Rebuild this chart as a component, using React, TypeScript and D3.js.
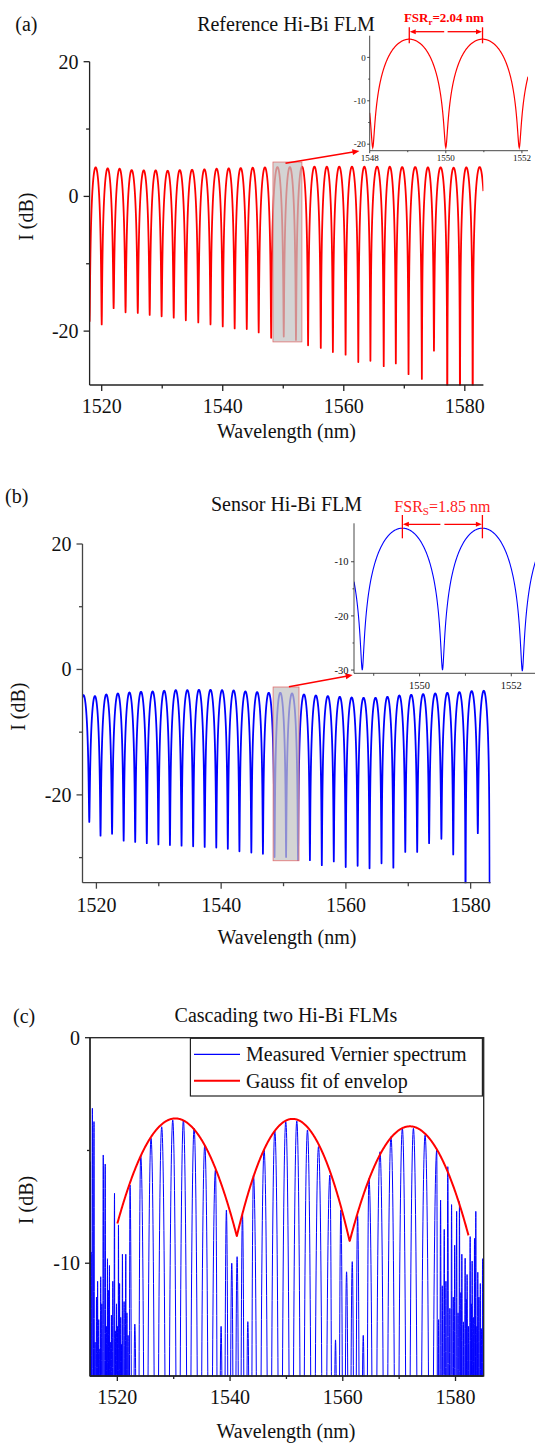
import React from "react";
import * as d3 from "d3";

type Pt = [number, number];

// ---------------- DATA ----------------
// (a) Reference Hi-Bi FLM : fringe dips (wavelength, depth) and peak level of each fringe
const refDipWl = [1518.0, 1520.0, 1521.97, 1523.94, 1525.96, 1527.93, 1529.9, 1531.9, 1533.9, 1535.96, 1537.98, 1540.0, 1541.97, 1543.97, 1545.94, 1548.0, 1550.08, 1552.1, 1554.1, 1556.2, 1558.2, 1560.3, 1562.4, 1564.4, 1566.6, 1568.6, 1570.7, 1572.9, 1574.9, 1577.1, 1579.2, 1581.3, 1583.6];
const refDipDb = [-18.6, -19.0, -16.6, -17.2, -17.3, -17.6, -17.8, -18.0, -18.4, -18.7, -19.0, -19.3, -19.6, -19.7, -20.2, -21.0, -20.8, -21.3, -22.1, -22.5, -23.1, -23.5, -24.6, -24.4, -25.2, -24.8, -26.4, -27.1, -22.9, -35, -35, -35, -25];
const refPeakDb = [4.31, 4.16, 4.11, 3.91, 3.86, 3.86, 3.81, 3.91, 3.96, 4.01, 4.11, 4.16, 4.21, 4.26, 4.3, 4.36, 4.36, 4.41, 4.41, 4.41, 4.41, 4.41, 4.41, 4.41, 4.41, 4.36, 4.36, 4.31, 4.31, 4.26, 4.31, 4.36];
const refWlDomain = [1518, 1583.07];
const refDbDomain = [-28, 20];
const refZoomBox = [1548.3, 1553.08, -21.6, 5.1];

// (a) inset
const refInsetDipWl = [1546.15, 1548.08, 1550.0, 1551.93, 1553.86];
const refInsetDipDb = [-21, -20.8, -20.8, -20.8, -21];
const refInsetPeakDb = [4.2, 4.2, 4.2, 4.2];
const refInsetWlDomain = [1548, 1552.16];
const refInsetDbDomain = [-21.5, 5];

// (b) Sensor Hi-Bi FLM
const senDipWl = [1517.0, 1518.86, 1520.66, 1522.51, 1524.37, 1526.22, 1528.08, 1529.94, 1531.79, 1533.65, 1535.51, 1537.36, 1539.22, 1541.07, 1542.93, 1544.84, 1546.7, 1548.56, 1550.41, 1552.32, 1554.23, 1556.14, 1558.06, 1559.97, 1561.88, 1563.79, 1565.71, 1567.61, 1569.52, 1571.43, 1573.34, 1575.31, 1577.21, 1579.18, 1581.15, 1583.06];
const senDipDb = [-24, -24.3, -26.5, -26.2, -27.3, -27.5, -27.7, -27.9, -28.0, -28.1, -28.2, -28.3, -28.4, -28.6, -29.0, -29.2, -29.4, -29.9, -29.9, -30.4, -30.4, -31.2, -30.6, -31.5, -31.3, -31.7, -30.9, -31.6, -29.1, -29.1, -27.7, -27.0, -29.5, -40, -26.1, -40];
const senPeakDb = [-4.1, -4.25, -3.99, -3.83, -3.67, -3.56, -3.51, -3.4, -3.3, -3.3, -3.25, -3.25, -3.3, -3.35, -3.51, -3.61, -3.72, -3.72, -3.83, -3.99, -4.15, -4.25, -4.36, -4.47, -4.52, -4.52, -4.36, -4.15, -4.04, -3.93, -3.83, -3.72, -3.61, -3.45, -3.4];
const senWlDomain = [1517.77, 1583.2];
const senDbDomain = [-34, 20];
const senZoomBox = [1548.33, 1552.48, -30.5, -2.8];

// (b) inset
const senInsetDipWl = [1547.0, 1548.75, 1550.5, 1552.24, 1554.0];
const senInsetDipDb = [-30, -30, -30, -30.2, -30];
const senInsetPeakDb = [-3.8, -3.8, -3.8, -3.8];
const senInsetWlDomain = [1548.57, 1552.53];
const senInsetDbDomain = [-30.6, -2.9];

// (c) Cascaded Vernier spectrum: fringe peak wavelengths and levels
const casPeakWl = [1515.2, 1515.35, 1515.57, 1515.86, 1516.05, 1516.3, 1516.5, 1516.7, 1516.9, 1517.05, 1517.25, 1517.5, 1517.85, 1518.05, 1518.25, 1518.4, 1518.6, 1518.75, 1518.95, 1519.2, 1519.5, 1519.65, 1519.85, 1520.05, 1520.2, 1520.4, 1520.6, 1520.75, 1520.9, 1521.2, 1521.5, 1521.7, 1521.9, 1522.25, 1523.1, 1524.15, 1525.98, 1527.87, 1529.83, 1531.72, 1533.62, 1535.51, 1537.4, 1538.41, 1539.35, 1540.3, 1541.25, 1542.2, 1543.15, 1544.15, 1546.04, 1547.94, 1549.88, 1551.84, 1553.73, 1555.69, 1557.71, 1558.71, 1559.66, 1560.67, 1561.68, 1562.63, 1563.63, 1564.64, 1566.6, 1568.55, 1570.57, 1572.53, 1574.6, 1576.67, 1577.0, 1577.35, 1577.65, 1578.0, 1578.3, 1578.63, 1579.0, 1579.3, 1579.6, 1579.85, 1580.2, 1580.45, 1580.7, 1580.95, 1581.12, 1581.4, 1581.71, 1581.9, 1582.05, 1582.3, 1582.6, 1582.8, 1582.95, 1583.15, 1583.37, 1583.6, 1583.8, 1583.95, 1584.15, 1584.4, 1584.6, 1584.8];
const casPeakDb = [-5.5, -9.5, -3.13, -3.72, -13.5, -11.5, -10.8, -12.5, -13.8, -10.6, -11.8, -5.2, -5.6, -12.8, -9.8, -11.2, -10.1, -13.5, -12.3, -10.8, -6.9, -13.0, -11.8, -12.8, -8.3, -10.9, -12.4, -13.6, -9.6, -11.7, -9.6, -12.2, -13.2, -6.53, -12.7, -5.2, -4.46, -3.95, -3.65, -3.65, -4.02, -4.76, -5.87, -12.8, -7.64, -10.0, -9.71, -7.79, -12.59, -6.09, -4.98, -4.13, -3.72, -3.69, -4.09, -4.83, -6.09, -13.4, -7.64, -10.38, -9.93, -7.89, -13.2, -6.24, -5.06, -4.39, -4.02, -4.02, -4.32, -4.98, -12.5, -7.2, -11.0, -8.5, -10.8, -5.72, -12.0, -7.4, -11.5, -9.2, -7.7, -12.2, -7.27, -11.3, -9.6, -12.6, -9.78, -11.6, -10.5, -12.8, -8.82, -11.8, -9.9, -12.4, -8.9, -7.7, -12.8, -10.4, -11.5, -10.9, -12.9, -9.8];
const casWlDomain = [1515.15, 1585.0];
const casDbDomain = [-15, 0];

// (c) Gauss fit of envelope: three arches
const envCenterWl = [1530.3, 1551.1, 1571.9];
const envPeakDb = [-3.58, -3.6, -3.93];
const envSigma = [7.03, 6.4, 6.97];
const envRange = [1520.0, 1582.3];

// ticks
const mainXTicks = [1520, 1540, 1560, 1580];
const mainXMinor = [1530, 1550, 1570];
const mainYTicks = [20, 0, -20];
const refYMinor = [10, -10];
const senYMinor = [10, -10, -30];
const casYTicks = [0, -10];
const casYMinor = [-5];
const refInsetXTicks = [1548, 1550, 1552];
const insetXMinor = [1549, 1551];
const refInsetYTicks = [0, -10, -20];
const refInsetYMinor = [-5, -15];
const senInsetXTicks = [1550, 1552];
const senInsetYTicks = [-10, -20, -30];
const senInsetYMinor = [-15, -25];

// ---------------- helpers ----------------
function fringeLine(dipWl: number[], dipDb: number[], peakDb: number[], lo: number, hi: number, n = 70): Pt[] {
  const pts: Pt[] = [];
  const val = (i: number, t: number) => {
    const P = peakDb[i];
    const D = t < 0.5 ? dipDb[i] : dipDb[i + 1];
    const a = Math.pow(10, (D - P) / 10);
    const s = Math.sin(Math.PI * t);
    return P + 10 * Math.log10(a + (1 - a) * s * s);
  };
  for (let i = 0; i < dipWl.length - 1; i++) {
    const L = dipWl[i], R = dipWl[i + 1];
    if (lo > L && lo < R) pts.push([lo, val(i, (lo - L) / (R - L))]);
    for (let k = i === 0 ? 0 : 1; k <= n; k++) {
      const t = k / n;
      const w = L + t * (R - L);
      if (w < lo || w > hi) continue;
      pts.push([w, val(i, t)]);
    }
    if (hi > L && hi < R) pts.push([hi, val(i, (hi - L) / (R - L))]);
  }
  return pts;
}

function combLine(wl: number[], db: number[], lo: number, hi: number, expo: number, floor: number, n = 30): Pt[] {
  const pts: Pt[] = [];
  const m = wl.length;
  for (let i = 0; i < m; i++) {
    const p = wl[i];
    const bl = i > 0 ? (wl[i - 1] + p) / 2 : p - (wl[1] - wl[0]) / 2;
    const br = i < m - 1 ? (p + wl[i + 1]) / 2 : p + (p - wl[i - 1]) / 2;
    const f = (u: number) => {
      const c = Math.cos((Math.PI * u) / 2);
      return c <= 1e-9 ? floor : Math.max(floor, db[i] + expo * 10 * Math.log10(c));
    };
    for (let k = i === 0 ? 0 : 1; k <= n; k++) {
      const u = k / n - 1;
      const w = p + u * (p - bl);
      if (w >= lo && w <= hi) pts.push([w, f(u)]);
    }
    for (let k = 1; k <= n; k++) {
      const u = k / n;
      const w = p + u * (br - p);
      if (w >= lo && w <= hi) pts.push([w, f(u)]);
    }
  }
  return pts;
}

function envelopeLine(): Pt[] {
  const pts: Pt[] = [];
  for (let w = envRange[0]; w <= envRange[1] + 1e-9; w += 0.05) {
    let v = -Infinity;
    for (let j = 0; j < envCenterWl.length; j++) {
      const d = w - envCenterWl[j];
      const g = envPeakDb[j] + 10 * Math.log10(Math.exp(-(d * d) / (2 * envSigma[j] * envSigma[j])));
      if (g > v) v = g;
    }
    pts.push([w, v]);
  }
  return pts;
}

const FONT = "'Liberation Serif', 'Times New Roman', serif";
const AX = "#222";

type Scale = d3.ScaleLinear<number, number>;

function LeftAxis(p: { s: Scale; x: number; ticks: number[]; minor: number[]; fs: number; tl: number; ml: number; gap: number; sw: number; color?: string }) {
  const [r0, r1] = p.s.range();
  const c = p.color || AX;
  return (
    <g>
      <line x1={p.x} x2={p.x} y1={r0} y2={r1} stroke={c} strokeWidth={p.sw} />
      {p.ticks.map((v) => (
        <g key={"t" + v}>
          <line x1={p.x - p.tl} x2={p.x} y1={p.s(v)} y2={p.s(v)} stroke={c} strokeWidth={p.sw} />
          <text x={p.x - p.tl - p.gap} y={p.s(v)} dy="0.35em" textAnchor="end" fontSize={p.fs} fontFamily={FONT} fill="#111">{String(v)}</text>
        </g>
      ))}
      {p.minor.map((v) => (
        <line key={"m" + v} x1={p.x - p.ml} x2={p.x} y1={p.s(v)} y2={p.s(v)} stroke={c} strokeWidth={p.sw} />
      ))}
    </g>
  );
}

function BottomAxis(p: { s: Scale; y: number; ticks: number[]; minor: number[]; fs: number; tl: number; ml: number; off: number; sw: number; color?: string }) {
  const [r0, r1] = p.s.range();
  const c = p.color || AX;
  return (
    <g>
      <line x1={r0} x2={r1} y1={p.y} y2={p.y} stroke={c} strokeWidth={p.sw} />
      {p.ticks.map((v) => (
        <g key={"t" + v}>
          <line x1={p.s(v)} x2={p.s(v)} y1={p.y} y2={p.y + p.tl} stroke={c} strokeWidth={p.sw} />
          <text x={p.s(v)} y={p.y + p.off} textAnchor="middle" fontSize={p.fs} fontFamily={FONT} fill="#111">{String(v)}</text>
        </g>
      ))}
      {p.minor.map((v) => (
        <line key={"m" + v} x1={p.s(v)} x2={p.s(v)} y1={p.y} y2={p.y + p.ml} stroke={c} strokeWidth={p.sw} />
      ))}
    </g>
  );
}

function Arrow(p: { x1: number; y1: number; x2: number; y2: number; color: string; sw: number; head: number; hw: number }) {
  const dx = p.x2 - p.x1, dy = p.y2 - p.y1;
  const L = Math.hypot(dx, dy);
  const ux = dx / L, uy = dy / L;
  const bx = p.x2 - ux * p.head, by = p.y2 - uy * p.head;
  const nx = -uy * p.hw, ny = ux * p.hw;
  return (
    <g>
      <line x1={p.x1} y1={p.y1} x2={bx + ux * 0.5} y2={by + uy * 0.5} stroke={p.color} strokeWidth={p.sw} />
      <path d={`M${p.x2},${p.y2}L${bx + nx},${by + ny}L${bx - nx},${by - ny}Z`} fill={p.color} />
    </g>
  );
}

export default function App() {
  // scales
  const xA = d3.scaleLinear().domain(refWlDomain).range([89.6, 483.4]);
  const yA = d3.scaleLinear().domain(refDbDomain).range([385, 61.7]);
  const xAi = d3.scaleLinear().domain(refInsetWlDomain).range([369.7, 528]);
  const yAi = d3.scaleLinear().domain(refInsetDbDomain).range([150.7, 35.7]);

  const xB = d3.scaleLinear().domain(senWlDomain).range([82.5, 490.6]);
  const yB = d3.scaleLinear().domain(senDbDomain).range([882.7, 544]);
  const xBi = d3.scaleLinear().domain(senInsetWlDomain).range([354, 535.6]);
  const yBi = d3.scaleLinear().domain(senInsetDbDomain).range([673.3, 523.3]);

  const xC = d3.scaleLinear().domain(casWlDomain).range([90, 483.7]);
  const yC = d3.scaleLinear().domain(casDbDomain).range([1376, 1037.7]);

  const mk = (xs: Scale, ys: Scale) => d3.line<Pt>().x((d) => xs(d[0])).y((d) => ys(d[1]));

  const refPts = fringeLine(refDipWl, refDipDb, refPeakDb, refWlDomain[0], refWlDomain[1]);
  const refInsetPts = fringeLine(refInsetDipWl, refInsetDipDb, refInsetPeakDb, refInsetWlDomain[0], refInsetWlDomain[1], 200);
  const senPts = fringeLine(senDipWl, senDipDb, senPeakDb, senWlDomain[0], senWlDomain[1]);
  const senInsetPts = fringeLine(senInsetDipWl, senInsetDipDb, senInsetPeakDb, senInsetWlDomain[0], senInsetWlDomain[1], 200);
  const casPts = combLine(casPeakWl, casPeakDb, casWlDomain[0], casWlDomain[1], 5, -40);
  const envPts = envelopeLine();

  const clipRect = (id: string, xs: Scale, ys: Scale) => {
    const [x0, x1] = xs.range();
    const [y0, y1] = ys.range();
    return (
      <clipPath id={id}>
        <rect x={Math.min(x0, x1)} y={Math.min(y0, y1) - 0.5} width={Math.abs(x1 - x0)} height={Math.abs(y1 - y0) + 1} />
      </clipPath>
    );
  };

  // inset FSR marker positions (peaks between inset dips)
  const aP1 = xAi((refInsetDipWl[1] + refInsetDipWl[2]) / 2);
  const aP2 = xAi((refInsetDipWl[2] + refInsetDipWl[3]) / 2);
  const bP1 = xBi((senInsetDipWl[1] + senInsetDipWl[2]) / 2);
  const bP2 = xBi((senInsetDipWl[2] + senInsetDipWl[3]) / 2);
  const aMid = (aP1 + aP2) / 2;
  const bMid = (bP1 + bP2) / 2;

  const RED = "#ff0000";
  const BLUE = "#0000ff";

  return (
    <svg width={535} height={1446} viewBox="0 0 535 1446" style={{ position: "absolute", left: 0, top: 0, background: "#fff" }} fontFamily={FONT}>
      <defs>
        {clipRect("clipA", xA, yA)}
        {clipRect("clipAi", xAi, yAi)}
        {clipRect("clipB", xB, yB)}
        {clipRect("clipBi", xBi, yBi)}
        {clipRect("clipC", xC, yC)}
      </defs>
      <rect x={0} y={0} width={535} height={1446} fill="#fff" />

      {/* ================= (a) ================= */}
      <text x={15.3} y={31} fontSize={20} fill="#111">(a)</text>
      <text x={286} y={30.7} fontSize={20} textAnchor="middle" fill="#111">Reference Hi-Bi FLM</text>
      <path d={mk(xA, yA)(refPts) || ""} fill="none" stroke={RED} strokeWidth={1.8} clipPath="url(#clipA)" strokeLinejoin="round" />
      <rect x={xA(refZoomBox[0])} y={yA(refZoomBox[3])} width={xA(refZoomBox[1]) - xA(refZoomBox[0])} height={yA(refZoomBox[2]) - yA(refZoomBox[3])} fill="#c4c4c4" fillOpacity={0.72} stroke="#e07070" strokeWidth={0.8} />
      <Arrow x1={285.5} y1={163.3} x2={359.4} y2={151} color={RED} sw={1.5} head={7} hw={3} />
      <LeftAxis s={yA} x={89.6} ticks={mainYTicks} minor={refYMinor} fs={20} tl={6} ml={3.5} gap={5} sw={1.3} />
      <BottomAxis s={xA} y={385} ticks={mainXTicks} minor={mainXMinor} fs={20} tl={6} ml={3.5} off={28.3} sw={1.3} />
      <text transform="translate(33,216.7) rotate(-90)" fontSize={20} textAnchor="middle" fill="#111">I (dB)</text>
      <text x={286.5} y={438.3} fontSize={20} textAnchor="middle" fill="#111">Wavelength (nm)</text>

      {/* inset (a) */}
      <path d={mk(xAi, yAi)(refInsetPts) || ""} fill="none" stroke={RED} strokeWidth={1.2} clipPath="url(#clipAi)" />
      <LeftAxis s={yAi} x={369.7} ticks={refInsetYTicks} minor={refInsetYMinor} fs={9} tl={2.5} ml={1.5} gap={1.5} sw={0.9} color="#333" />
      <BottomAxis s={xAi} y={150.7} ticks={refInsetXTicks} minor={insetXMinor} fs={9} tl={2.5} ml={1.5} off={10.5} sw={0.9} color="#333" />
      <line x1={aP1} x2={aP1} y1={27.3} y2={43.3} stroke={RED} strokeWidth={1.3} />
      <line x1={aP2} x2={aP2} y1={27.3} y2={43.3} stroke={RED} strokeWidth={1.3} />
      <Arrow x1={aMid - 1.7} y1={31.7} x2={aP1 + 0.5} y2={31.7} color={RED} sw={1.3} head={6} hw={2.5} />
      <Arrow x1={aMid + 1.7} y1={31.7} x2={aP2 - 0.5} y2={31.7} color={RED} sw={1.3} head={6} hw={2.5} />
      <text x={aMid - 2} y={22} fontSize={13} fontWeight="bold" textAnchor="middle" fill={RED}>
        FSR<tspan fontSize={9} dy={3}>r</tspan><tspan dy={-3}>=2.04 nm</tspan>
      </text>

      {/* ================= (b) ================= */}
      <text x={5} y={503.3} fontSize={20} fill="#111">(b)</text>
      <text x={286.5} y={510.7} fontSize={20} textAnchor="middle" fill="#111">Sensor Hi-Bi FLM</text>
      <path d={mk(xB, yB)(senPts) || ""} fill="none" stroke={BLUE} strokeWidth={1.8} clipPath="url(#clipB)" strokeLinejoin="round" />
      <rect x={xB(senZoomBox[0])} y={yB(senZoomBox[3])} width={xB(senZoomBox[1]) - xB(senZoomBox[0])} height={yB(senZoomBox[2]) - yB(senZoomBox[3])} fill="#c4c4c4" fillOpacity={0.72} stroke="#e07070" strokeWidth={0.8} />
      <Arrow x1={288.9} y1={686.7} x2={352.6} y2={675} color={RED} sw={1.5} head={7} hw={3} />
      <LeftAxis s={yB} x={82.5} ticks={mainYTicks} minor={senYMinor} fs={20} tl={6} ml={3.5} gap={5} sw={1.3} color="#444" />
      <BottomAxis s={xB} y={882.7} ticks={mainXTicks} minor={mainXMinor} fs={20} tl={6} ml={3.5} off={29} sw={1.3} color="#444" />
      <text transform="translate(25,706.7) rotate(-90)" fontSize={20} textAnchor="middle" fill="#111">I (dB)</text>
      <text x={287} y={944} fontSize={20} textAnchor="middle" fill="#111">Wavelength (nm)</text>

      {/* inset (b) */}
      <path d={mk(xBi, yBi)(senInsetPts) || ""} fill="none" stroke={BLUE} strokeWidth={1.1} clipPath="url(#clipBi)" />
      <LeftAxis s={yBi} x={354} ticks={senInsetYTicks} minor={senInsetYMinor} fs={10.5} tl={3} ml={1.5} gap={2.5} sw={0.9} color="#333" />
      <BottomAxis s={xBi} y={673.3} ticks={senInsetXTicks} minor={insetXMinor} fs={10.5} tl={3} ml={2.5} off={16} sw={0.9} color="#333" />
      <line x1={bP1} x2={bP1} y1={515} y2={538.3} stroke={RED} strokeWidth={1.3} />
      <line x1={bP2} x2={bP2} y1={515} y2={538.3} stroke={RED} strokeWidth={1.3} />
      <Arrow x1={bMid - 2} y1={524.3} x2={bP1 + 0.5} y2={524.3} color={RED} sw={1.3} head={6} hw={2.5} />
      <Arrow x1={bMid + 2} y1={524.3} x2={bP2 - 0.5} y2={524.3} color={RED} sw={1.3} head={6} hw={2.5} />
      <text x={bMid} y={511.7} fontSize={16} textAnchor="middle" fill="#ff2020">
        FSR<tspan fontSize={11} dy={3}>S</tspan><tspan dy={-3}>=1.85 nm</tspan>
      </text>

      {/* ================= (c) ================= */}
      <text x={13} y={1023} fontSize={20} fill="#111">(c)</text>
      <text x={286} y={1021.7} fontSize={20} textAnchor="middle" fill="#111">Cascading two Hi-Bi FLMs</text>
      <path d={mk(xC, yC)(casPts) || ""} fill="none" stroke={BLUE} strokeWidth={1.0} clipPath="url(#clipC)" />
      <path d={mk(xC, yC)(envPts) || ""} fill="none" stroke={RED} strokeWidth={2} clipPath="url(#clipC)" strokeLinejoin="round" />
      <rect x={90} y={1037.7} width={393.7} height={338.3} fill="none" stroke={AX} strokeWidth={1.3} />
      <LeftAxis s={yC} x={90} ticks={casYTicks} minor={casYMinor} fs={20} tl={5} ml={3} gap={5} sw={1.3} />
      <BottomAxis s={xC} y={1376} ticks={mainXTicks} minor={mainXMinor} fs={20} tl={5} ml={3} off={27.5} sw={1.3} />
      <text transform="translate(33,1200) rotate(-90)" fontSize={20} textAnchor="middle" fill="#111">I (dB)</text>
      <text x={286} y={1438} fontSize={20} textAnchor="middle" fill="#111">Wavelength (nm)</text>

      {/* legend */}
      <rect x={190.4} y={1038.3} width={292} height={57.7} fill="#fff" stroke={AX} strokeWidth={1.2} />
      <line x1={194} x2={240} y1={1054.3} y2={1054.3} stroke={BLUE} strokeWidth={1.2} />
      <text x={246} y={1060.7} fontSize={20} fill="#111">Measured Vernier spectrum</text>
      <line x1={194} x2={240} y1={1080.7} y2={1080.7} stroke={RED} strokeWidth={2} />
      <text x={246} y={1088.3} fontSize={20} fill="#111">Gauss fit of envelop</text>
    </svg>
  );
}
